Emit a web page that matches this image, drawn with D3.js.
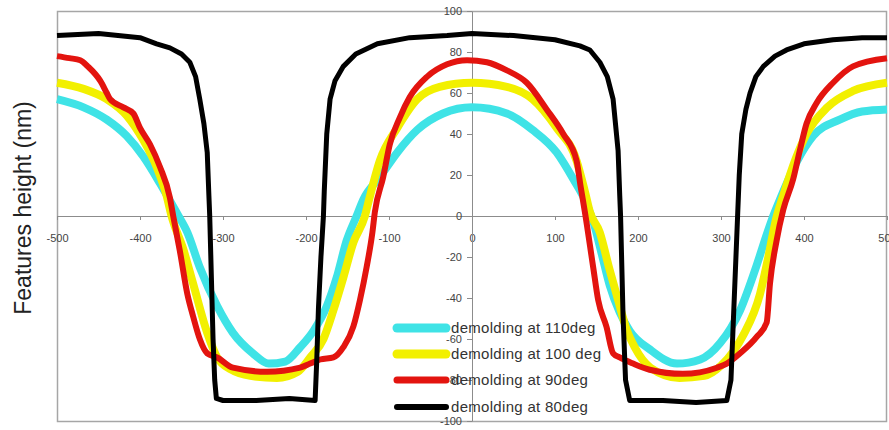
<!DOCTYPE html>
<html>
<head>
<meta charset="utf-8">
<script src="https://cdn.jsdelivr.net/npm/d3@7"></script>
<style>
  body { margin: 0; background: #fff; }
  svg { display: block; font-family: "Liberation Sans", Arial, sans-serif; }
</style>
</head>
<body>
<svg id="chart" width="889" height="430"></svg>
<script>
// profile data, [position (nm), height (nm)]
let deg110 = [
  [-500, 57], [-468, 53], [-440, 47], [-416, 39], [-396, 29], [-376, 16], [-355, 1],
  [-343, -8], [-328, -25], [-307, -44], [-288, -57], [-264, -67], [-245, -72], [-225, -71],
  [-207, -64], [-191, -56], [-175, -44], [-163, -30], [-151, -12], [-139, 0], [-131, 8],
  [-111, 19], [-90, 31], [-66, 42], [-35, 50], [0, 53], [42, 50], [73, 42], [102, 31],
  [122, 18], [138, 6], [147, -4], [156, -18], [166, -34], [178, -47], [190, -56],
  [214, -65], [247, -72], [275, -70], [299, -62], [323, -46], [343, -24], [356, -8],
  [363, 0], [372, 9], [392, 27], [411, 39], [443, 47], [470, 51], [500, 52]
];
let deg100 = [
  [-500, 65], [-468, 62], [-440, 57], [-416, 49], [-396, 37], [-380, 24], [-368, 10],
  [-362, 0], [-348, -16], [-336, -33], [-319, -57], [-307, -69], [-290, -75], [-267, -78],
  [-235, -79], [-210, -76], [-195, -69], [-179, -60], [-167, -46], [-155, -30], [-143, -13],
  [-129, 0], [-124, 8], [-111, 27], [-90, 43], [-66, 57], [-39, 63], [0, 65], [42, 63],
  [73, 57], [102, 43], [126, 27], [136, 12], [142, 2], [154, -8], [165, -25], [176, -41],
  [186, -55], [196, -64], [215, -74], [250, -79], [280, -78], [300, -73], [315, -66],
  [327, -58], [347, -38], [357, -20], [366, -2], [375, 10], [390, 28], [403, 40],
  [428, 53], [459, 61], [500, 65]
];
let deg90 = [
  [-500, 78], [-485, 77], [-472, 76], [-463, 73], [-448, 66], [-440, 60], [-436, 57],
  [-420, 53], [-408, 50], [-400, 43], [-388, 35], [-376, 24], [-364, 9], [-360, 0],
  [-352, -17], [-343, -38], [-336, -49], [-328, -60], [-319, -67], [-307, -69],
  [-288, -74], [-247, -76], [-207, -74], [-195, -72], [-183, -70], [-167, -69],
  [-155, -64], [-143, -54], [-135, -41], [-127, -25], [-120, -8], [-117, 2], [-107, 19],
  [-99, 35], [-87, 48], [-75, 58], [-54, 68], [-30, 74], [-6, 76], [18, 75], [42, 71],
  [66, 65], [90, 52], [110, 40], [126, 27], [131, 14], [136, 2], [146, -25], [152, -41],
  [162, -54], [170, -67], [178, -69], [194, -72], [214, -75], [254, -77], [295, -74],
  [307, -72], [323, -67], [343, -59], [355, -52], [359, -33], [367, -12], [375, 3],
  [387, 18], [395, 32], [403, 45], [415, 55], [435, 65], [459, 73], [500, 77]
];
let deg80 = [
  [-500, 88], [-450, 89], [-400, 87], [-380, 84], [-364, 82], [-350, 79], [-340, 75],
  [-333, 68], [-328, 57], [-323, 45], [-319, 31], [-317, 10], [-316, 0], [-314, -30],
  [-312, -60], [-310, -80], [-308, -89], [-300, -90], [-260, -90], [-220, -89],
  [-189, -90], [-187, -70], [-185, -45], [-182, -20], [-179, 0], [-178, 12], [-175, 40],
  [-171, 57], [-165, 66], [-155, 73], [-140, 79], [-114, 84], [-75, 87], [-30, 88],
  [0, 89], [50, 88], [100, 86], [130, 83], [142, 81], [154, 75], [163, 68], [170, 57],
  [176, 32], [178, 10], [179, 0], [182, -49], [185, -80], [190, -90], [230, -90],
  [270, -91], [307, -90], [312, -80], [315, -50], [318, -20], [320, 0], [322, 20],
  [325, 40], [330, 52], [335, 60], [342, 68], [351, 73], [365, 78], [379, 81],
  [400, 84], [435, 86], [470, 87], [500, 87]
];

let seriesNames = ["demolding at 110deg", "demolding at 100 deg", "demolding at 90deg", "demolding at 80deg"];
let xTicks = [-500, -400, -300, -200, -100, 0, 100, 200, 300, 400, 500];
let yTicks = [-100, -80, -60, -40, -20, 0, 20, 40, 60, 80, 100];

let svg = d3.select("#chart");

let x = d3.scaleLinear().domain([-500, 500]).range([57, 887]);
let y = d3.scaleLinear().domain([-100, 100]).range([421, 11]);

// plot frame
svg.append("rect")
  .attr("x", 57.5)
  .attr("y", 11.5)
  .attr("width", 829)
  .attr("height", 410)
  .attr("fill", "#fff")
  .attr("stroke", "#a6a6a6")
  .attr("stroke-width", 1.5);

// axes cross in the middle of the plot
let xAxis = svg.append("g")
  .attr("transform", "translate(0," + y(0) + ")")
  .call(d3.axisBottom(x).tickValues(xTicks).tickFormat((d) => d)
    .tickSizeInner(4).tickSizeOuter(0).tickPadding(14));

let yAxis = svg.append("g")
  .attr("transform", "translate(" + x(0) + ",0)")
  .call(d3.axisLeft(y).tickValues(yTicks).tickFormat((d) => d)
    .tickSizeInner(5).tickSizeOuter(0).tickPadding(5));

[xAxis, yAxis].forEach(function (a) {
  a.select(".domain").attr("stroke", "#8c8c8c");
  a.selectAll(".tick line").attr("stroke", "#8c8c8c");
  a.selectAll(".tick text")
    .attr("fill", "#444")
    .style("font-size", "11px")
    .style("font-family", "'Liberation Sans', Arial, sans-serif");
});

let line = d3.line()
  .x((d) => x(d[0]))
  .y((d) => y(d[1]))
  .curve(d3.curveMonotoneX);

let series = [
  { name: seriesNames[0], data: deg110, color: "#3fe3e6", width: 8 },
  { name: seriesNames[1], data: deg100, color: "#f2f000", width: 8 },
  { name: seriesNames[2], data: deg90, color: "#e3140f", width: 6 },
  { name: seriesNames[3], data: deg80, color: "#000000", width: 5 }
];

series.forEach(function (s) {
  svg.append("path")
    .datum(s.data)
    .attr("fill", "none")
    .attr("stroke", s.color)
    .attr("stroke-width", s.width)
    .attr("stroke-linejoin", "round")
    .attr("d", s.color === "#000000" ? line.curve(d3.curveLinear) : line.curve(d3.curveMonotoneX));
});

// legend (no box)
const legendRows = [328, 354, 380, 407];
const legend = svg.append("g").attr("class", "legend");

series.forEach(function (s, i) {
  legend.append("line")
    .attr("x1", 397)
    .attr("x2", 446)
    .attr("y1", legendRows[i])
    .attr("y2", legendRows[i])
    .attr("stroke", s.color)
    .attr("stroke-width", s.width + 1)
    .attr("stroke-linecap", "round");

  legend.append("text")
    .attr("x", 451)
    .attr("y", legendRows[i])
    .attr("dy", "0.36em")
    .attr("fill", "#333")
    .style("font-size", "15px")
    .style("letter-spacing", "0.3px")
    .text(s.name);
});

// y axis title
svg.append("text")
  .attr("transform", "translate(31,208) rotate(-90)")
  .style("text-anchor", "middle")
  .style("font-size", "23px")
  .attr("fill", "#222")
  .text("Features height (nm)");
</script>
</body>
</html>
